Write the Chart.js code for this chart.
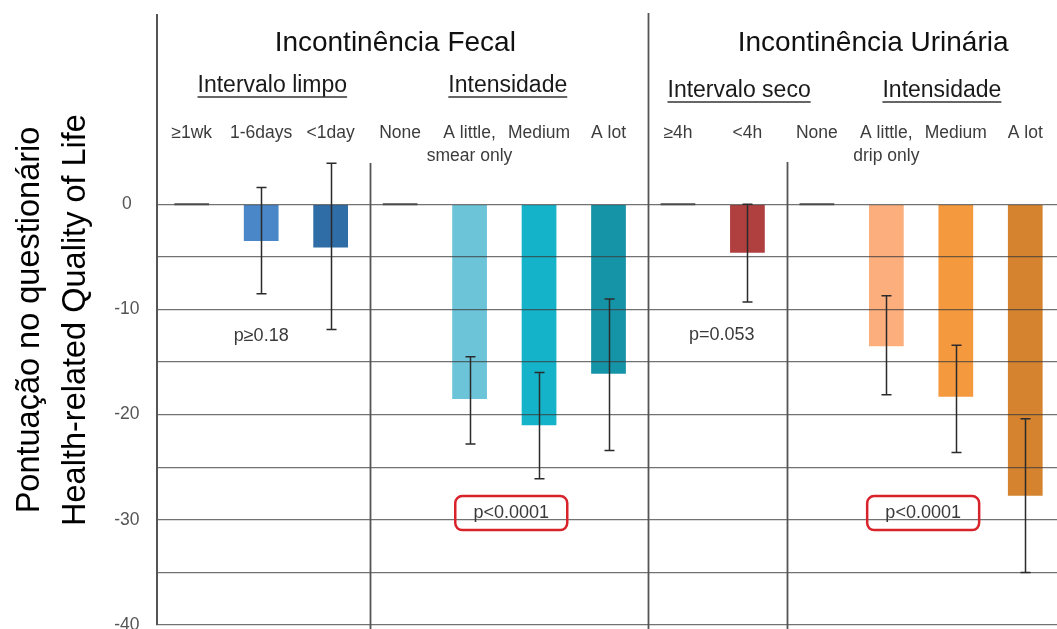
<!DOCTYPE html>
<html>
<head>
<meta charset="utf-8">
<script src="https://cdn.jsdelivr.net/npm/chart.js@4/dist/chart.umd.min.js"></script>
<style>
  html, body { margin: 0; padding: 0; background: #fff; overflow: hidden; width: 1057px; height: 629px; }
  canvas { display: block; }
</style>
</head>
<body>
<canvas id="qol" width="1064" height="640"></canvas>
<script>
// Categories: fecal clean interval, fecal intensity, urinary dry interval, urinary intensity
const categories = [
  '≥1wk', '1-6days', '<1day',
  'None', ['A little,', 'smear only'], 'Medium', 'A lot',
  '≥4h', '<4h',
  'None', ['A little,', 'drip only'], 'Medium', 'A lot'
];
// Mean change in health-related quality of life score
const meanScores = [0, -3.5, -4.1, 0, -18.5, -21.0, -16.1, 0, -4.6, 0, -13.5, -18.3, -27.7];
// Confidence interval limits
const errUpper = [null, 1.6, 3.9, null, -14.5, -16.0, -9.0, null, 0.0, null, -8.7, -13.4, -20.4];
const errLower = [null, -8.5, -11.9, null, -22.8, -26.1, -23.4, null, -9.3, null, -18.1, -23.6, -35.0];
const barColors = [
  '#5a5a5a', '#4a87c9', '#2f6da6',
  '#5a5a5a', '#6cc4d9', '#14b3c9', '#1594a7',
  '#5a5a5a', '#b0403f',
  '#5a5a5a', '#fcae7d', '#f5993f', '#d5832f'
];
const yTicks = [0, -5, -10, -15, -20, -25, -30, -35, -40];
const yTitle = ['Pontuação no questionário', 'Health-related Quality of Life'];
const groupTitles = ['Incontinência Fecal', 'Incontinência Urinária'];
const subTitles = ['Intervalo limpo', 'Intensidade', 'Intervalo seco', 'Intensidade'];
const pLabels = ['p≥0.18', 'p<0.0001', 'p=0.053', 'p<0.0001'];

const FONT = "'Liberation Sans', Arial, sans-serif";

const overlay = {
  id: 'overlay',
  afterDraw(chart) {
    const ctx = chart.ctx;
    const xs = chart.scales.x, ys = chart.scales.y;
    const area = chart.chartArea;
    const x0 = xs.getPixelForValue(0);
    const slot = xs.getPixelForValue(1) - x0;
    const px = i => x0 + i * slot;
    const meta = chart.getDatasetMeta(0);

    ctx.save();

    // group dividers
    ctx.strokeStyle = '#555';
    ctx.lineWidth = 1.8;
    const dividers = [[2.57, 163], [6.57, area.top - 2], [8.57, 162]];
    dividers.forEach(([i, top]) => {
      const x = Math.round(px(i)) + 0.5;
      ctx.beginPath(); ctx.moveTo(x, top); ctx.lineTo(x, area.bottom + 20); ctx.stroke();
    });

    // reference categories at zero drawn as short dashes
    const zeroY = ys.getPixelForValue(0);
    ctx.strokeStyle = '#4a4a4a';
    ctx.lineWidth = 2;
    meanScores.forEach((v, i) => {
      if (v !== 0) return;
      const bar = meta.data[i];
      ctx.beginPath();
      ctx.moveTo(bar.x - bar.width / 2, zeroY);
      ctx.lineTo(bar.x + bar.width / 2, zeroY);
      ctx.stroke();
    });

    // error bars
    ctx.strokeStyle = '#2b2b2b';
    ctx.lineWidth = 1.5;
    meanScores.forEach((v, i) => {
      if (errUpper[i] === null) return;
      const x = Math.round(meta.data[i].x) + 0.5;
      const yt = ys.getPixelForValue(errUpper[i]);
      const yb = ys.getPixelForValue(errLower[i]);
      ctx.beginPath();
      ctx.moveTo(x, yt); ctx.lineTo(x, yb);
      ctx.moveTo(x - 5, yt); ctx.lineTo(x + 5, yt);
      ctx.moveTo(x - 5, yb); ctx.lineTo(x + 5, yb);
      ctx.stroke();
    });

    ctx.textAlign = 'center';
    ctx.textBaseline = 'middle';

    // group titles
    ctx.fillStyle = '#111';
    ctx.font = `28px ${FONT}`;
    ctx.fillText(groupTitles[0], px(2.93), 43);
    ctx.fillText(groupTitles[1], px(9.81), 43);

    // underlined sub-headings
    ctx.font = `23px ${FONT}`;
    ctx.fillStyle = '#1a1a1a';
    ctx.strokeStyle = '#333';
    ctx.lineWidth = 1.4;
    [[0, 1.16, 86], [1, 4.55, 86], [2, 7.88, 91], [3, 10.80, 91]].forEach(([k, i, y]) => {
      const x = px(i);
      ctx.fillText(subTitles[k], x, y);
      const w = ctx.measureText(subTitles[k]).width;
      ctx.beginPath();
      ctx.moveTo(x - w / 2, y + 11); ctx.lineTo(x + w / 2, y + 11);
      ctx.stroke();
    });

    // category labels
    ctx.font = `17.5px ${FONT}`;
    ctx.fillStyle = '#3c3c3c';
    categories.forEach((lab, i) => {
      const x = meta.data[i].x;
      const lines = Array.isArray(lab) ? lab : [lab];
      lines.forEach((t, j) => ctx.fillText(t, x, 133 + j * 23));
    });

    // p-values
    ctx.font = `18px ${FONT}`;
    ctx.fillStyle = '#3a3a3a';
    ctx.fillText(pLabels[0], px(1.0), ys.getPixelForValue(-12.54));
    ctx.fillText(pLabels[2], px(7.63), ys.getPixelForValue(-12.45));

    const yBox = ys.getPixelForValue(-29.36);
    [[1, 4.60], [3, 10.53]].forEach(([k, i]) => {
      const x = px(i);
      ctx.strokeStyle = '#d9232b';
      ctx.lineWidth = 2.5;
      ctx.beginPath();
      ctx.roundRect(x - 56, yBox - 17, 112, 34, 7);
      ctx.stroke();
      ctx.fillStyle = '#3a3a3a';
      ctx.fillText(pLabels[k], x, yBox);
    });

    ctx.restore();
  }
};

new Chart(document.getElementById('qol'), {
  type: 'bar',
  data: {
    labels: categories,
    datasets: [{
      data: meanScores,
      backgroundColor: barColors,
      barPercentage: 0.5,
      categoryPercentage: 1,
      borderWidth: 0
    }]
  },
  options: {
    responsive: false,
    animation: false,
    devicePixelRatio: 1,
    layout: { padding: { top: 15, bottom: 15, left: 0, right: 4 } },
    plugins: { legend: { display: false }, tooltip: { enabled: false } },
    scales: {
      x: { display: false },
      y: {
        min: -40,
        max: 18,
        afterFit(s) { s.width = 157; },
        afterBuildTicks(s) { s.ticks = yTicks.map(v => ({ value: v })); },
        ticks: {
          padding: 0,
          crossAlign: 'center',
          color: '#555',
          font: { family: FONT, size: 17.5 },
          callback: v => (v % 10 === 0 ? String(v) : '')
        },
        grid: {
          color: 'rgba(60,60,60,0.72)',
          lineWidth: 1.3,
          drawTicks: true,
          tickLength: 17.5,
          tickColor: 'rgba(0,0,0,0)',
          z: 1
        },
        border: { display: true, color: '#555', width: 2, z: 2 },
        title: {
          display: true,
          text: yTitle,
          color: '#000',
          font: { family: FONT, size: 32.5, lineHeight: 1.4 },
          padding: { top: 7.5, bottom: 0 }
        }
      }
    }
  },
  plugins: [overlay]
});
</script>
</body>
</html>
